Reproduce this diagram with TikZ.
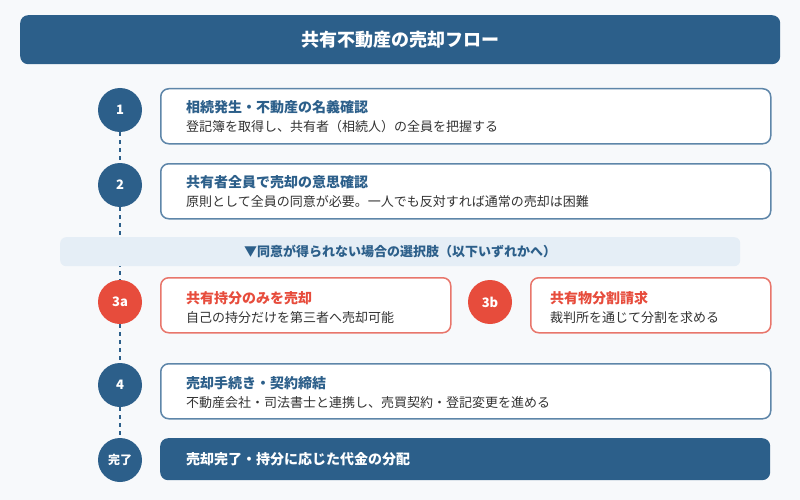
\documentclass[tikz,border=0pt]{standalone}
\usepackage{fontspec}
\setmainfont{Noto Sans CJK JP}
\pgfdeclarelayer{bg}
\pgfdeclarelayer{back}
\pgfsetlayers{bg,back,main}
\definecolor{pagebg}{HTML}{F7F9FB}
\definecolor{navy}{HTML}{2C5F8A}
\definecolor{cardline}{HTML}{5E86A9}
\definecolor{redc}{HTML}{E74C3C}
\definecolor{redline}{HTML}{E8766B}
\definecolor{bannerbg}{HTML}{E5EEF6}
\definecolor{subtxt}{HTML}{333333}
\tikzset{
  stepdot/.style={circle, fill=navy, minimum size=44pt, inner sep=0pt, text=white, font=\bfseries\fontsize{13}{15}\selectfont},
  altdot/.style={stepdot, fill=redc},
  enddot/.style={stepdot, font=\bfseries\fontsize{12}{14}\selectfont},
  card/.style={draw=cardline, line width=1.5pt, fill=white, rounded corners=8pt, anchor=north west, inner sep=0pt},
  altcard/.style={card, draw=redline},
  finalcard/.style={fill=navy, rounded corners=8pt, anchor=north west, inner sep=0pt},
  cardtitle/.style={anchor=west, inner sep=0pt, text=navy, font=\bfseries\fontsize{14}{16}\selectfont},
  alttitle/.style={cardtitle, text=redc},
  cardsub/.style={anchor=west, inner sep=0pt, text=subtxt, font=\fontsize{13}{15}\selectfont},
  finaltitle/.style={cardtitle, text=white},
  linker/.style={draw=navy, line width=2.5pt, dash pattern=on 4pt off 4pt},
}
\begin{document}
\begin{tikzpicture}[x=1pt, y=-1pt]
\begin{pgfonlayer}{bg}
\fill[pagebg] (0,0) rectangle (800,500);
\end{pgfonlayer}
\useasboundingbox (0,0) rectangle (800,500);

% header
\node[fill=navy, rounded corners=8pt, minimum width=760pt, minimum height=49pt, anchor=north west, inner sep=0pt] (head) at (20,15) {};
\node[text=white, font=\bfseries\fontsize{18}{20}\selectfont] (headtxt) at (head.center) {共有不動産の売却フロー};

% step circles
\node[stepdot] (c1) at (120,110) {1};
\node[stepdot] (c2) at (120,185) {2};
\node[altdot] (c3a) at (120,302) {3a};
\node[altdot] (c3b) at (490,302) {3b};
\node[stepdot] (c4) at (120,385) {4};
\node[enddot] (c5) at (120,460) {完了};

% cards
\node[card, minimum width=610pt, minimum height=55pt] (b1) at (160,88) {};
\node[cardtitle] (t1) at (186,107) {相続発生・不動産の名義確認};
\node[cardsub] (s1) at (186,127) {登記簿を取得し、共有者（相続人）の全員を把握する};

\node[card, minimum width=610pt, minimum height=55pt] (b2) at (160,163) {};
\node[cardtitle] (t2) at (186,182) {共有者全員で売却の意思確認};
\node[cardsub] (s2) at (186,202) {原則として全員の同意が必要。一人でも反対すれば通常の売却は困難};

% banner
\node[fill=bannerbg, rounded corners=6pt, minimum width=680pt, minimum height=29pt, anchor=north west, inner sep=0pt] (ban) at (60,237) {};
\node[text=navy, font=\bfseries\fontsize{13}{15}\selectfont] (bantxt) at (ban.center) {▼同意が得られない場合の選択肢（以下いずれかへ）};

\node[altcard, minimum width=290pt, minimum height=55pt] (b3a) at (160,277) {};
\node[alttitle] (t3a) at (186,298) {共有持分のみを売却};
\node[cardsub] (s3a) at (186,318) {自己の持分だけを第三者へ売却可能};

\node[altcard, minimum width=240pt, minimum height=55pt] (b3b) at (530,277) {};
\node[alttitle] (t3b) at (550,298) {共有物分割請求};
\node[cardsub] (s3b) at (550,318) {裁判所を通じて分割を求める};

\node[card, minimum width=610pt, minimum height=55pt] (b4) at (160,363) {};
\node[cardtitle] (t4) at (186,383) {売却手続き・契約締結};
\node[cardsub] (s4) at (186,403) {不動産会社・司法書士と連携し、売買契約・登記変更を進める};

\node[finalcard, minimum width=610pt, minimum height=42pt] (b5) at (160,438) {};
\node[finaltitle] (t5) at (186,459) {売却完了・持分に応じた代金の分配};

% connectors
\begin{pgfonlayer}{back}
\draw[linker] (c1.south) -- (c2.north);
\draw[linker] (c2.south) -- (c3a.north);
\draw[linker] (c3a.south) -- (c4.north);
\draw[linker] (c4.south) -- (c5.north);
\end{pgfonlayer}
\end{tikzpicture}
\end{document}
